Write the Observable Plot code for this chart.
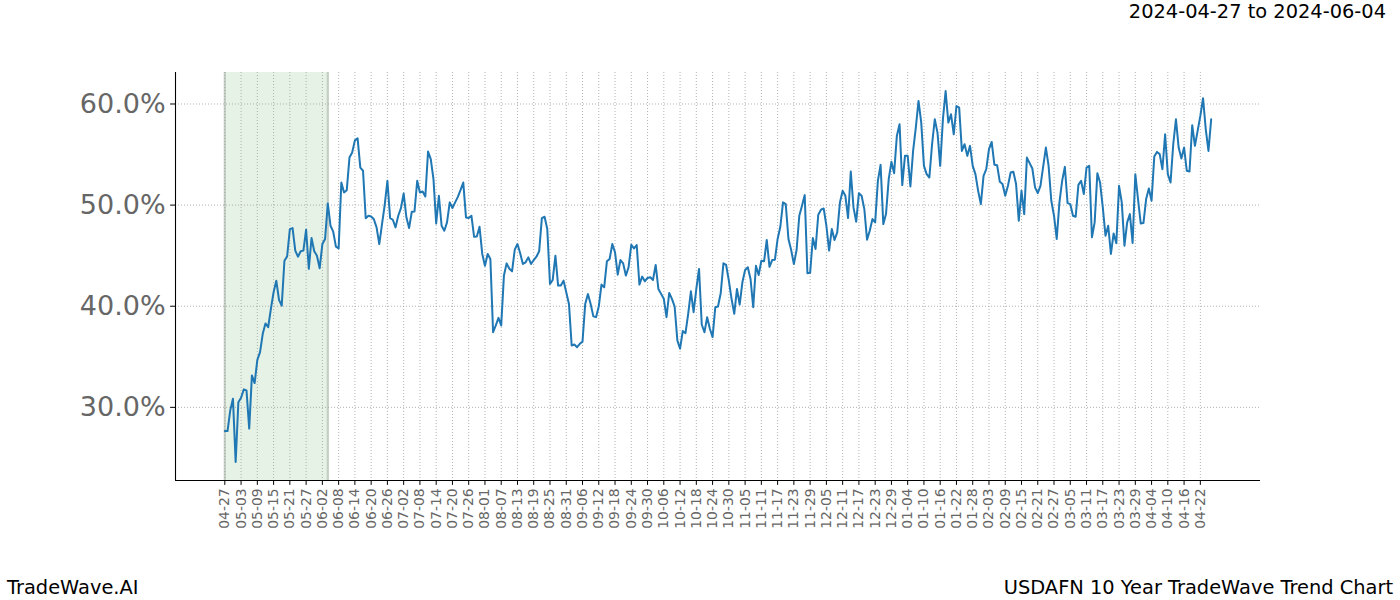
<!DOCTYPE html>
<html><head><meta charset="utf-8">
<script src="https://cdn.jsdelivr.net/npm/d3@7"></script>
<script src="https://cdn.jsdelivr.net/npm/@observablehq/plot@0.6"></script>
<style>
body{margin:0;background:#fff;font-family:"DejaVu Sans",sans-serif;}
#wrap{width:1400px;height:600px;overflow:hidden;background:#fff}
#title{height:32px;box-sizing:border-box;text-align:right;padding-right:14px;font-size:19.4px;line-height:24px;color:#000}
#footer{height:32px;box-sizing:border-box;padding:8px 7px 0 7px;display:flex;justify-content:space-between;font-size:19.4px;line-height:24px;color:#000}
#chart svg{display:block}
</style></head>
<body><div id="wrap"><div id="title">2024-04-27 to 2024-06-04</div><div id="chart"></div><div id="footer"><span>TradeWave.AI</span><span>USDAFN 10 Year TradeWave Trend Chart</span></div></div>
<script>
// Daily series starting at startDate (one value per calendar day)
const startDate = "2024-04-27";
const values = [
27.66, 27.66, 29.7, 30.86, 24.6, 30.5, 30.95, 31.78, 31.68, 27.9,
33.16, 32.4, 34.7, 35.46, 37.27, 38.3, 37.92, 39.74, 41.38, 42.53,
40.63, 40.06, 44.5, 44.93, 47.63, 47.73, 45.5, 44.9, 45.43, 45.5,
47.57, 43.7, 46.75, 45.43, 45.0, 43.75, 46.15, 46.65, 50.16, 47.96,
47.37, 45.89, 45.72, 52.23, 51.25, 51.48, 54.7, 55.2, 56.4, 56.6,
53.7, 53.4, 48.7, 48.95, 48.88, 48.6, 47.8, 46.15, 48.1, 50.0,
52.4, 48.72, 48.55, 47.8, 48.95, 49.7, 51.15, 48.8, 47.73, 49.34,
49.37, 52.4, 51.25, 51.35, 50.85, 55.3, 54.54, 52.57, 48.19, 50.92,
47.96, 47.47, 48.29, 50.27, 49.71, 50.27, 50.82, 51.5, 52.23, 48.78,
48.72, 48.95, 46.87, 46.9, 47.86, 45.17, 44.0, 45.17, 44.67, 37.43,
38.1, 38.85, 38.1, 43.03, 44.24, 43.7, 43.45, 45.6, 46.15, 45.23,
44.18, 44.34, 44.83, 44.18, 44.57, 44.9, 45.43, 48.72, 48.85, 47.63,
42.2, 42.6, 45.0, 42.04, 42.04, 42.53, 41.38, 40.23, 36.12, 36.22,
35.95, 36.28, 36.5, 40.23, 41.2, 40.23, 39.0, 38.92, 39.97, 42.14,
41.87, 44.44, 44.67, 46.15, 45.33, 43.12, 44.57, 44.24, 43.03, 43.85,
46.08, 45.72, 46.05, 42.14, 42.93, 42.47, 42.8, 42.87, 42.6, 44.08,
41.71, 41.22, 40.73, 38.92, 41.32, 40.73, 39.97, 36.62, 35.8, 37.54,
37.33, 39.25, 41.48, 39.41, 41.71, 43.69, 38.19, 37.43, 38.92, 37.77,
36.95, 39.9, 39.97, 41.28, 44.24, 44.08, 42.53, 40.73, 39.25, 41.71,
40.16, 42.37, 43.59, 43.85, 42.7, 39.9, 44.0, 43.09, 44.5, 44.44,
46.55, 43.9, 44.57, 44.6, 46.65, 47.86, 50.27, 50.1, 46.65, 45.56,
44.18, 45.56, 48.95, 49.93, 50.99, 43.26, 43.3, 46.75, 45.66, 49.05,
49.54, 49.67, 47.96, 45.5, 47.63, 46.55, 47.3, 50.27, 51.41, 50.92,
48.72, 53.32, 49.77, 48.36, 51.18, 50.92, 49.6, 46.58, 47.47, 48.62,
48.29, 52.4, 53.98, 48.12, 49.11, 52.57, 54.28, 53.16, 56.84, 58.0,
51.98, 54.87, 54.87, 51.84, 55.36, 57.66, 60.3, 58.16, 53.88, 53.06,
52.73, 56.02, 58.49, 57.17, 53.88, 58.49, 61.28, 58.16, 58.98, 57.0,
59.8, 59.64, 55.36, 56.02, 54.87, 55.86, 53.88, 53.06, 51.41, 50.1,
52.9, 53.55, 55.53, 56.25, 53.98, 53.95, 52.3, 52.08, 50.92, 51.91,
53.22, 53.29, 52.08, 48.45, 51.41, 49.11, 54.7, 54.15, 53.62, 51.75,
51.19, 51.91, 53.8, 55.69, 53.88, 50.43, 48.95, 46.65, 50.27, 52.4,
53.78, 50.2, 50.1, 48.95, 48.85, 52.0, 52.4, 51.09, 53.72, 53.88,
46.81, 48.29, 53.16, 52.23, 49.77, 46.97, 47.96, 45.17, 47.2, 46.22,
51.91, 50.27, 45.99, 48.29, 49.11, 46.26, 53.06, 50.6, 48.19, 48.22,
50.6, 51.64, 50.43, 54.8, 55.26, 55.04, 53.55, 57.0, 53.06, 52.23,
56.02, 58.49, 55.69, 54.6, 55.69, 53.39, 53.32, 57.9, 55.86, 57.34,
58.82, 60.57, 57.5, 55.36, 58.49
];

const tickDates = [
"2024-04-27","2024-05-03","2024-05-09","2024-05-15","2024-05-21","2024-05-27",
"2024-06-02","2024-06-08","2024-06-14","2024-06-20","2024-06-26","2024-07-02",
"2024-07-08","2024-07-14","2024-07-20","2024-07-26","2024-08-01","2024-08-07",
"2024-08-13","2024-08-19","2024-08-25","2024-08-31","2024-09-06","2024-09-12",
"2024-09-18","2024-09-24","2024-09-30","2024-10-06","2024-10-12","2024-10-18",
"2024-10-24","2024-10-30","2024-11-05","2024-11-11","2024-11-17","2024-11-23",
"2024-11-29","2024-12-05","2024-12-11","2024-12-17","2024-12-23","2024-12-29",
"2025-01-04","2025-01-10","2025-01-16","2025-01-22","2025-01-28","2025-02-03",
"2025-02-09","2025-02-15","2025-02-21","2025-02-27","2025-03-05","2025-03-11",
"2025-03-17","2025-03-23","2025-03-29","2025-04-04","2025-04-10","2025-04-16",
"2025-04-22"
];
const shadeRange = ["2024-04-27", "2024-06-04"];
const yTicks = [30, 40, 50, 60];

const parse = d3.utcParse("%Y-%m-%d");
const start = parse(startDate);
const days = d3.utcDay.range(start, d3.utcDay.offset(start, values.length));
const rows = values.map((v, i) => ({date: days[i], value: v}));
const last = days[days.length - 1];
const xpad = (last - start) * 0.05;
const xDomain = [new Date(+start - xpad), new Date(+last + xpad)];
const [ymin, ymax] = d3.extent(values);
const ypad = (ymax - ymin) * 0.05;
const yDomain = [ymin - ypad, ymax + ypad];
const ticks = tickDates.map(parse);
const shade = shadeRange.map(parse);

const chart = Plot.plot({
  width: 1400,
  height: 536,
  marginLeft: 175,
  marginRight: 140,
  marginTop: 40,
  marginBottom: 88,
  style: {fontFamily: "DejaVu Sans", background: "#fff", overflow: "visible"},
  x: {type: "utc", domain: xDomain},
  y: {domain: yDomain},
  marks: [
    Plot.rect([{x1: shade[0], x2: shade[1]}], {x1: "x1", x2: "x2", fill: "#008000", fillOpacity: 0.1}),
    Plot.ruleX(shade, {stroke: "#c4cec4", strokeWidth: 2.2}),
    Plot.gridX({ticks: ticks, stroke: "#a0a0a0", strokeOpacity: 1, strokeWidth: 0.8, strokeDasharray: "1,2"}),
    Plot.gridY({ticks: yTicks, stroke: "#a0a0a0", strokeOpacity: 1, strokeWidth: 0.8, strokeDasharray: "1,2"}),
    Plot.axisX({ticks: ticks, tickFormat: d3.utcFormat("%m-%d"), tickRotate: -90, tickSize: 4.9, tickPadding: 3, fontSize: 13.9, fill: "#666", stroke: "#000", label: null}),
    Plot.axisY({ticks: yTicks, tickFormat: d => d.toFixed(1) + "%", tickSize: 4.9, tickPadding: 5, fontSize: 27, fill: "#666", stroke: "#000", label: null}),
    Plot.ruleX([xDomain[0]], {stroke: "#000", strokeWidth: 1.1}),
    Plot.ruleY([yDomain[0]], {stroke: "#000", strokeWidth: 1.1}),
    Plot.line(rows, {x: "date", y: "value", stroke: "#1f77b4", strokeWidth: 2})
  ]
});
document.getElementById("chart").appendChild(chart);
</script>
</body></html>
